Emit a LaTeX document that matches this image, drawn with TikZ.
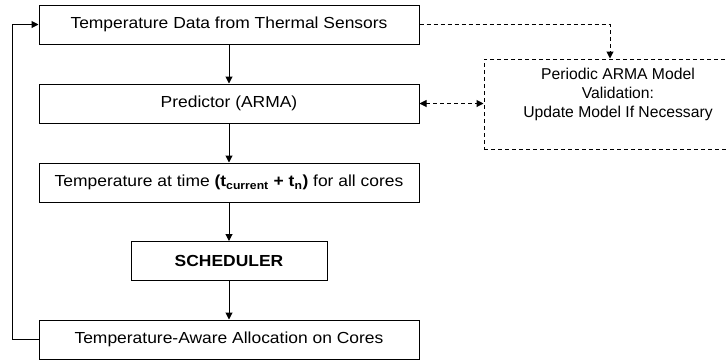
\documentclass[tikz,border=0pt]{standalone}
\usepackage{fontspec}
\setmainfont{Liberation Sans}
\usetikzlibrary{arrows.meta}
\newcommand\sx[1]{\scalebox{1.09}[1]{#1}}
\begin{document}
\begin{tikzpicture}[x=1pt,y=-1pt,
  box/.style={draw=black, line width=1pt, minimum width=380pt, minimum height=39pt, inner sep=0pt, font=\fontsize{16}{18}\selectfont},
  arr/.style={-{Triangle[length=7pt,width=7pt]}, line width=1pt},
  dsh/.style={dash pattern=on 4pt off 3pt, line width=1pt},
  txt/.style={font=\fontsize{15.7}{19}\selectfont, inner sep=0pt, align=center}]
\useasboundingbox (0,0) rectangle (726,360);
\clip (0,0) rectangle (726,360);
\node[box] (b1) at (229,24.5) {\sx{Temperature Data from Thermal Sensors}};
\node[box] (b2) at (229,103.5) {\sx{Predictor (ARMA)}};
\node[box] (b3) at (229,182.5) {\sx{Temperature at time \textbf{(t\textsubscript{current} + t\textsubscript{n})} for all cores}};
\node[box, minimum width=196pt] (b4) at (229,261) {\sx{\textbf{SCHEDULER}}};
\node[box] (b5) at (229,339.5) {\sx{Temperature-Aware Allocation on Cores}};
\node[draw=black, dsh, minimum width=268pt, minimum height=90pt, inner sep=0pt] (dv) at (618,104) {};
\node[txt] (dt) at (618,94) {Periodic ARMA Model\\Validation:\\Update Model If Necessary};
\coordinate (dvin) at ([xshift=-8pt]dv.north);
\draw[arr] (b1) -- (b2);
\draw[arr] (b2) -- (b3);
\draw[arr] (b3) -- (b4);
\draw[arr] (b4) -- (b5);
\draw[arr] (b5.west) -- ++(-26,0) |- (b1.west);
\draw[arr, dsh] (b1.east) -| (dvin);
\draw[{Triangle[length=7pt,width=7pt]}-{Triangle[length=7pt,width=7pt]}, dsh] (b2.east) -- (b2.east -| dv.west);
\end{tikzpicture}
\end{document}
